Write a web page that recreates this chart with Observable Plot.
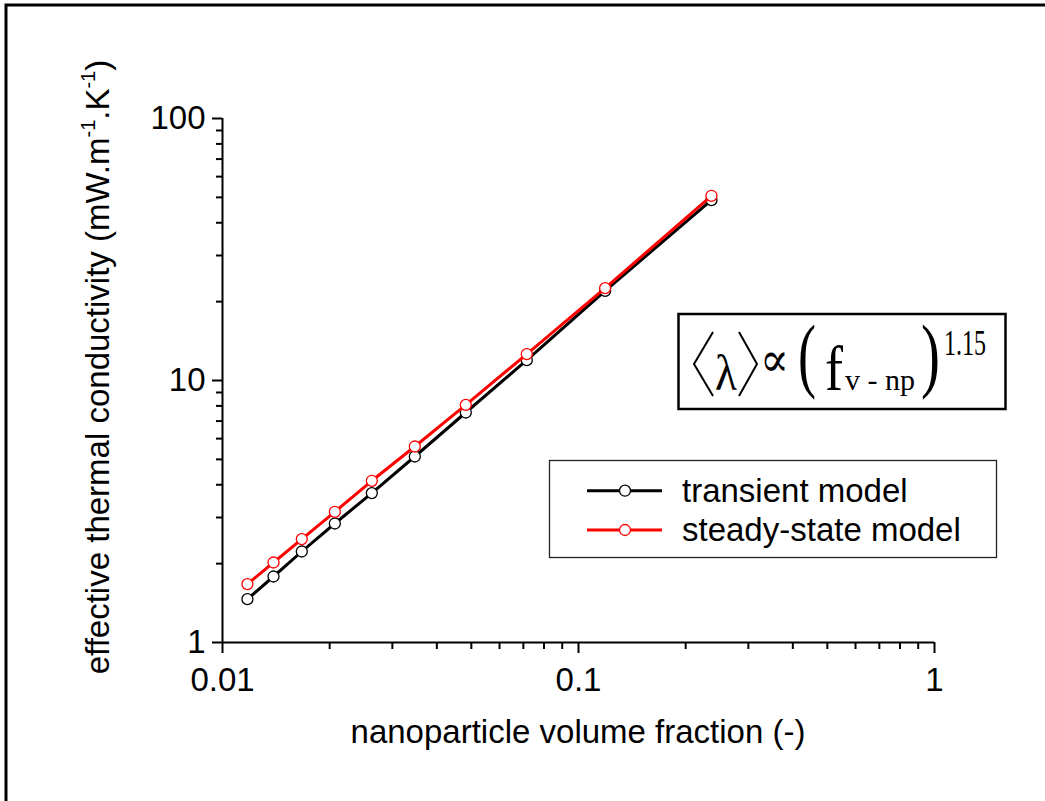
<!DOCTYPE html>
<html>
<head>
<meta charset="utf-8">
<script src="https://cdn.jsdelivr.net/npm/d3@7"></script>
<script src="https://cdn.jsdelivr.net/npm/@observablehq/plot@0.6"></script>
<style>
  html, body { margin: 0; padding: 0; background: #fff; }
  #wrap { position: relative; width: 1045px; height: 801px; overflow: hidden; }
  #wrap svg.overlay { position: absolute; left: 0; top: 0; pointer-events: none; }
</style>
</head>
<body>
<div id="wrap"></div>
<script>
// ---- data ----
const volumeFraction = [0.01175, 0.01391, 0.0167, 0.02068, 0.02627, 0.03469, 0.04824, 0.07157, 0.1188, 0.2363];
const transientModel = [1.464, 1.786, 2.225, 2.846, 3.718, 5.128, 7.548, 11.96, 22.0, 48.8];
const steadyStateModel = [1.671, 2.020, 2.481, 3.154, 4.142, 5.598, 8.076, 12.61, 22.52, 50.7];
const seriesNames = ["transient model", "steady-state model"];
const seriesColors = ["#000000", "#ff0000"];
const xMajorTicks = [0.01, 0.1, 1];
const xMinorTicks = [0.02,0.03,0.04,0.05,0.06,0.07,0.08,0.09,0.2,0.3,0.4,0.5,0.6,0.7,0.8,0.9];
const yMajorTicks = [1, 10, 100];
const yMinorTicks = [2,3,4,5,6,7,8,9,20,30,40,50,60,70,80,90];
const xTitle = "nanoparticle volume fraction (-)";

const transientData = volumeFraction.map((x, i) => ({x, y: transientModel[i]}));
const steadyData = volumeFraction.map((x, i) => ({x, y: steadyStateModel[i]}));

const W = 1045, H = 801;
const FONT = "'Liberation Sans', Arial, sans-serif";
const FS = 33;

const chart = Plot.plot({
  width: W, height: H,
  marginLeft: 222, marginRight: 111, marginTop: 118, marginBottom: 159,
  style: {fontFamily: FONT, fontSize: FS + "px", background: "white", color: "black"},
  x: {type: "log", domain: [0.01, 1]},
  y: {type: "log", domain: [1, 100]},
  marks: [
    Plot.axisX(xMinorTicks, {tickSize: 7, strokeWidth: 2, tickFormat: () => "", label: null}),
    Plot.axisX(xMajorTicks, {tickSize: 11, tickPadding: 14, strokeWidth: 2, fontSize: FS, tickFormat: d => String(d), label: null}),
    Plot.axisY(yMinorTicks, {tickSize: 6, strokeWidth: 2, tickFormat: () => "", label: null}),
    Plot.axisY(yMajorTicks, {tickSize: 10, tickPadding: 7, strokeWidth: 2, fontSize: FS, tickFormat: d => String(d), label: null}),
    Plot.ruleY([1], {stroke: "black", strokeWidth: 2}),
    Plot.ruleX([0.01], {stroke: "black", strokeWidth: 2}),
    Plot.line(transientData, {x: "x", y: "y", stroke: seriesColors[0], strokeWidth: 3}),
    Plot.dot(transientData, {x: "x", y: "y", r: 5.5, fill: "white", stroke: seriesColors[0], strokeWidth: 1.3}),
    Plot.line(steadyData, {x: "x", y: "y", stroke: seriesColors[1], strokeWidth: 3}),
    Plot.dot(steadyData, {x: "x", y: "y", r: 5.5, fill: "white", stroke: seriesColors[1], strokeWidth: 1.3})
  ]
});
const wrap = document.getElementById("wrap");
wrap.appendChild(chart);

// ---- overlay: frame, axis titles, legend, formula ----
const ov = d3.select(wrap).append("svg").attr("class", "overlay")
  .attr("width", W).attr("height", H);

ov.append("rect").attr("x", 6).attr("y", 5).attr("width", 1200).attr("height", 1000)
  .attr("fill", "none").attr("stroke", "black").attr("stroke-width", 3);

// x title
ov.append("text").attr("x", 578).attr("y", 743).attr("text-anchor", "middle")
  .attr("font-family", FONT).attr("font-size", FS).text(xTitle);

// y title with superscripts
const yt = ov.append("text").attr("transform", "translate(109,367) rotate(-90)")
  .attr("text-anchor", "middle").attr("font-family", FONT).attr("font-size", FS);
yt.append("tspan").text("effective thermal conductivity (mW.m");
yt.append("tspan").attr("font-size", 20).attr("dy", -14).text("-1");
yt.append("tspan").attr("dy", 14).text(".K");
yt.append("tspan").attr("font-size", 20).attr("dy", -14).text("-1");
yt.append("tspan").attr("dy", 14).text(")");

// legend
const lg = ov.append("g");
lg.append("rect").attr("x", 549.5).attr("y", 460.5).attr("width", 447).attr("height", 97)
  .attr("fill", "white").attr("stroke", "#222").attr("stroke-width", 1.3);
const rowsY = [490.7, 530];
seriesNames.forEach((name, i) => {
  const y = rowsY[i];
  lg.append("line").attr("x1", 587).attr("x2", 662).attr("y1", y).attr("y2", y)
    .attr("stroke", seriesColors[i]).attr("stroke-width", 3);
  lg.append("circle").attr("cx", 625).attr("cy", y).attr("r", 5.5)
    .attr("fill", "white").attr("stroke", seriesColors[i]).attr("stroke-width", 1.3);
  lg.append("text").attr("x", 682).attr("y", y + 11).attr("font-family", FONT)
    .attr("font-size", FS).text(name);
});

// formula box
const fm = ov.append("g");
fm.append("rect").attr("x", 678.5).attr("y", 314).attr("width", 327).attr("height", 95)
  .attr("fill", "white").attr("stroke", "black").attr("stroke-width", 2.5);
const SERIF = "'Liberation Serif', 'Times New Roman', serif";
// angle brackets
fm.append("path").attr("d", "M713,332 L694,364 L713,396").attr("fill", "none").attr("stroke", "black").attr("stroke-width", 2);
fm.append("path").attr("d", "M739,332 L757,364 L739,396").attr("fill", "none").attr("stroke", "black").attr("stroke-width", 2);
function glyph(txt, x, y, size, len, family) {
  fm.append("text").attr("x", x).attr("y", y).attr("font-family", family || SERIF)
    .attr("font-size", size).attr("textLength", len).attr("lengthAdjust", "spacingAndGlyphs")
    .text(txt);
}
glyph("λ", 715, 390, 50, 22);
glyph("∝", 760, 376, 48, 29, "'DejaVu Serif', serif");
glyph("(", 798, 382, 82, 18);
glyph("f", 825, 390, 63, 18);
glyph("v - np", 845, 390, 30, 70);
glyph(")", 921, 382, 82, 19);
glyph("1.15", 944, 355, 35, 42);
</script>
</body>
</html>
